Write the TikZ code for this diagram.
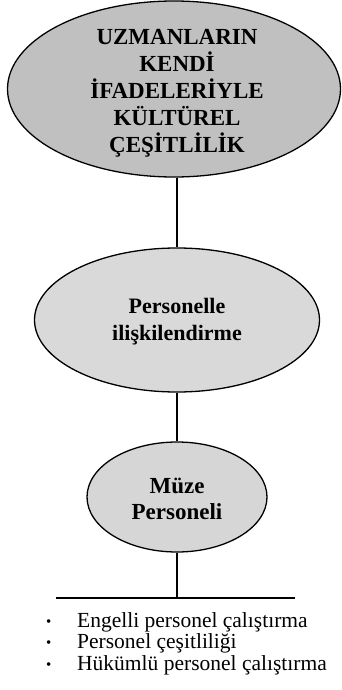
\documentclass[tikz,border=0pt]{standalone}
\usepackage{fontspec}
\setmainfont{Liberation Serif}
\usetikzlibrary{shapes.geometric}
\newcommand{\smallbul}{\makebox[32pt][l]{\hspace{1pt}\raisebox{0.5pt}{\fontsize{15}{15}\selectfont•}}}
\begin{document}
\begin{tikzpicture}[x=1pt,y=-1pt,
  oval/.style={ellipse,draw=black,line width=1.3pt,inner sep=0pt,align=center,font=\bfseries},
  conn/.style={draw=black,line width=1.3pt},
  item/.style={anchor=west,inner sep=0pt,font=\fontsize{21.5}{24}\selectfont}]
\useasboundingbox (0,0) rectangle (341,690);
\node[oval,fill={rgb,255:red,192;green,192;blue,192},minimum width=333pt,minimum height=176pt] (top) at (174,89) {};
\node[align=center,font=\bfseries\fontsize{23}{27}\selectfont,inner sep=0pt] (toptext) at (177,93)
  {UZMANLARIN\\KENDİ\\İFADELERİYLE\\KÜLTÜREL\\ÇEŞİTLİLİK};
\node[oval,fill={rgb,255:red,217;green,217;blue,217},minimum width=285pt,minimum height=144pt] (mid) at (177,320) {};
\node[align=center,font=\bfseries\fontsize{22}{27}\selectfont,inner sep=0pt] (midtext) at (177,322)
  {Personelle\\ilişkilendirme};
\node[oval,fill={rgb,255:red,214;green,214;blue,214},minimum width=180pt,minimum height=110pt] (bot) at (177,497) {};
\node[align=center,font=\bfseries\fontsize{23}{26}\selectfont,inner sep=0pt] (bottext) at (177,499)
  {Müze\\Personeli};
\coordinate (hl) at (56,598);
\coordinate (hr) at (295,598);
\coordinate (jn) at (bot.south |- hl);
\draw[conn] (mid.north |- top.south) -- (mid.north);
\draw[conn] (bot.north |- mid.south) -- (bot.north);
\draw[conn] (bot.south) -- (jn);
\draw[conn] (hl) -- (hr);
\node[item] (b1) at (45,622) {\smallbul Engelli personel çalıştırma};
\node[item] (b2) at (45,643) {\smallbul Personel çeşitliliği};
\node[item] (b3) at (45,665) {\smallbul Hükümlü personel çalıştırma};
\end{tikzpicture}
\end{document}
